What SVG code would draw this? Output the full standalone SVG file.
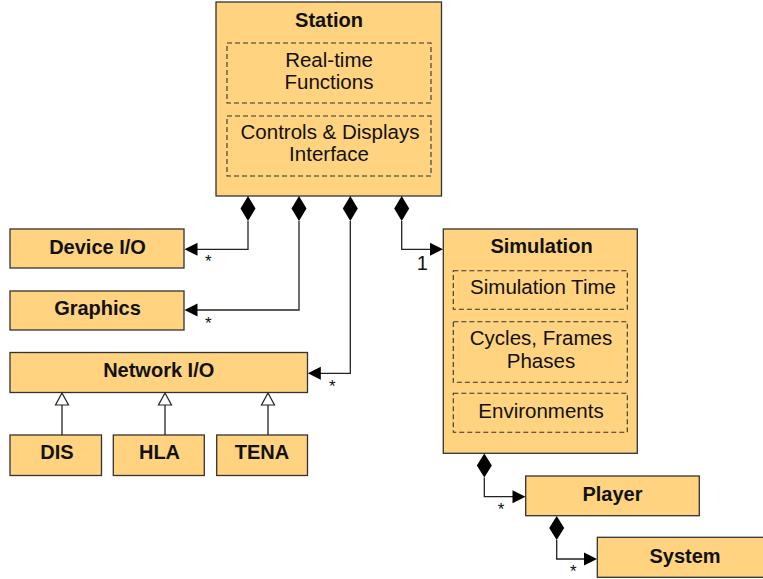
<svg xmlns="http://www.w3.org/2000/svg" width="763" height="579" viewBox="0 0 763 579">
  <defs>
    <style>
      .box { fill: #ffd37f; stroke: #333; stroke-width: 1.3; }
      .part { fill: none; stroke: #333; stroke-width: 1.1; stroke-dasharray: 5 3; }
      .title { font-family: "Liberation Sans", Arial, sans-serif; font-size: 20px; font-weight: bold; fill: #111; text-anchor: middle; }
      .txt { font-family: "Liberation Sans", Arial, sans-serif; font-size: 20.5px; fill: #111; text-anchor: middle; }
      .mult { font-family: "Liberation Sans", Arial, sans-serif; font-size: 17px; fill: #111; text-anchor: middle; }
      .one { font-family: "Liberation Sans", Arial, sans-serif; font-size: 20px; fill: #111; text-anchor: middle; }
      .line { fill: none; stroke: #222; stroke-width: 1.3; }
      .diamond { fill: #000; stroke: none; }
      .head { fill: #000; stroke: none; }
      .hollow { fill: #fff; stroke: #222; stroke-width: 1.2; }
    </style>
  </defs>

  <!-- Station with its internal parts -->
  <g id="station">
    <rect class="box" x="216" y="2" width="225.5" height="194"/>
    <text class="title" x="329" y="26.5">Station</text>
    <rect class="part" x="227" y="43" width="204" height="60"/>
    <text class="txt" x="329" y="67">Real-time</text>
    <text class="txt" x="329" y="89">Functions</text>
    <rect class="part" x="227" y="116" width="204" height="60"/>
    <text class="txt" x="330" y="138.5">Controls &amp; Displays</text>
    <text class="txt" x="329" y="160.5">Interface</text>
  </g>

  <g id="device-io">
    <rect class="box" x="10" y="229" width="174" height="39"/>
    <text class="title" x="97.5" y="253.5">Device I/O</text>
  </g>

  <g id="graphics">
    <rect class="box" x="10" y="291" width="174" height="39"/>
    <text class="title" x="97.5" y="314.5">Graphics</text>
  </g>

  <g id="network-io">
    <rect class="box" x="10" y="352.5" width="297.5" height="40"/>
    <text class="title" x="158.7" y="376.5">Network I/O</text>
  </g>

  <g id="dis">
    <rect class="box" x="10" y="435" width="91.5" height="40.5"/>
    <text class="title" x="57" y="459">DIS</text>
  </g>

  <g id="hla">
    <rect class="box" x="113.3" y="435" width="91" height="40.5"/>
    <text class="title" x="159.5" y="459">HLA</text>
  </g>

  <g id="tena">
    <rect class="box" x="216.7" y="435" width="90.8" height="40.5"/>
    <text class="title" x="262" y="459">TENA</text>
  </g>

  <!-- Simulation with its internal parts -->
  <g id="simulation">
    <rect class="box" x="443.3" y="229" width="194" height="224.3"/>
    <text class="title" x="541.5" y="253">Simulation</text>
    <rect class="part" x="453.3" y="270.7" width="174" height="38.6"/>
    <text class="txt" x="543" y="294">Simulation Time</text>
    <rect class="part" x="453.3" y="321.7" width="174" height="60.6"/>
    <text class="txt" x="541" y="345">Cycles, Frames</text>
    <text class="txt" x="541" y="367.5">Phases</text>
    <rect class="part" x="453.3" y="393.3" width="174" height="39"/>
    <text class="txt" x="541" y="418.3">Environments</text>
  </g>

  <g id="player">
    <rect class="box" x="525.7" y="476" width="173.6" height="39.7"/>
    <text class="title" x="612.5" y="501">Player</text>
  </g>

  <g id="system">
    <rect class="box" x="597.3" y="537.3" width="173.6" height="40"/>
    <text class="title" x="685" y="563">System</text>
  </g>

  <!-- Composition and generalization connectors -->
  <g id="connectors">
    <!-- Station to Device I/O -->
    <polyline class="line" points="248,221 248,249.3 197,249.3"/>
    <polygon class="diamond" points="248,196 255.5,208.5 248,221 240.5,208.5"/>
    <polygon class="head" points="184.5,249.3 197.5,242.8 197.5,255.8"/>
    <text class="mult" x="208.3" y="267">*</text>

    <!-- Station to Graphics -->
    <polyline class="line" points="299,221 299,310 197,310"/>
    <polygon class="diamond" points="299,196 306.5,208.5 299,221 291.5,208.5"/>
    <polygon class="head" points="184.5,310 197.5,303.5 197.5,316.5"/>
    <text class="mult" x="208.3" y="329">*</text>

    <!-- Station to Network I/O -->
    <polyline class="line" points="350.3,221 350.3,373.3 320,373.3"/>
    <polygon class="diamond" points="350.3,196 357.8,208.5 350.3,221 342.8,208.5"/>
    <polygon class="head" points="307.8,373.3 320.8,366.8 320.8,379.8"/>
    <text class="mult" x="332.3" y="392">*</text>

    <!-- Station to Simulation -->
    <polyline class="line" points="401.7,221 401.7,249.3 431,249.3"/>
    <polygon class="diamond" points="401.7,196 409.2,208.5 401.7,221 394.2,208.5"/>
    <polygon class="head" points="443,249.3 430,242.8 430,255.8"/>
    <text class="one" x="422.3" y="270">1</text>

    <!-- Network I/O specializations -->
    <line class="line" x1="62" y1="405" x2="62" y2="435"/>
    <polygon class="hollow" points="62,393 68.5,405 55.5,405"/>
    <line class="line" x1="165" y1="405" x2="165" y2="435"/>
    <polygon class="hollow" points="165,393 171.5,405 158.5,405"/>
    <line class="line" x1="268" y1="405" x2="268" y2="435"/>
    <polygon class="hollow" points="268,393 274.5,405 261.5,405"/>

    <!-- Simulation to Player -->
    <polyline class="line" points="484.3,477.5 484.3,496.7 513,496.7"/>
    <polygon class="diamond" points="484.3,453.5 491.8,465.5 484.3,477.5 476.8,465.5"/>
    <polygon class="head" points="525.5,496.7 512.5,490.2 512.5,503.2"/>
    <text class="mult" x="501" y="515">*</text>

    <!-- Player to System -->
    <polyline class="line" points="556.7,540 556.7,559 585,559"/>
    <polygon class="diamond" points="556.7,516 564.2,528 556.7,540 549.2,528"/>
    <polygon class="head" points="597,559 584,552.5 584,565.5"/>
    <text class="mult" x="573.3" y="576.5">*</text>
  </g>
</svg>
